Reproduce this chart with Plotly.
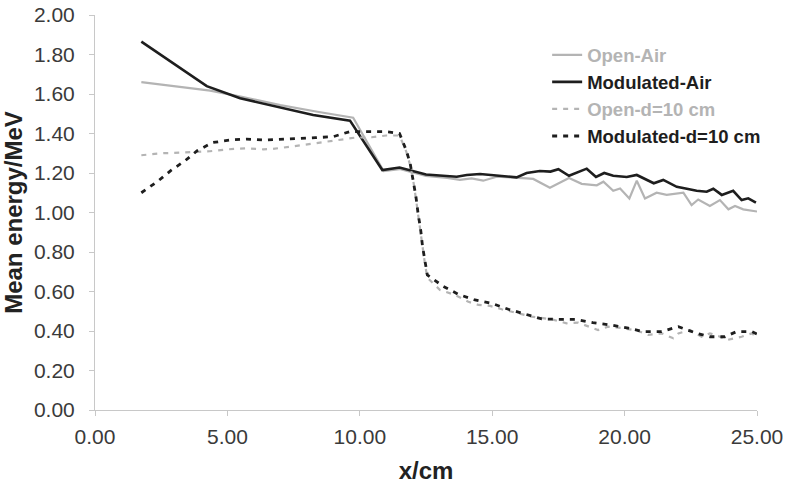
import plotly.graph_objects as go

# ---------------------------------------------------------------------------
# Data
# ---------------------------------------------------------------------------
open_air_x = [1.75, 4.35, 5.5, 7.0, 8.4, 9.5, 9.75, 10.9, 11.5, 12.5, 13.3, 13.78, 14.22,
              14.66, 15.17, 16.3, 16.55, 17.18, 17.9, 18.38, 18.95, 19.2, 19.57, 19.83,
              20.18, 20.46, 20.77, 21.21, 21.59, 22.22, 22.53, 22.78, 23.22, 23.6, 23.92,
              24.17, 24.48, 25.0]
open_air_y = [1.66, 1.617, 1.587, 1.544, 1.51, 1.485, 1.48, 1.21, 1.22, 1.185, 1.175, 1.165,
              1.173, 1.161, 1.181, 1.173, 1.17, 1.125, 1.175, 1.145, 1.138, 1.156, 1.11,
              1.122, 1.071, 1.161, 1.071, 1.1, 1.089, 1.1, 1.038, 1.066, 1.033, 1.063,
              1.016, 1.033, 1.016, 1.005]

mod_air_x = [1.75, 4.22, 5.48, 6.73, 8.24, 9.63, 10.85, 11.5, 12.5, 13.66, 14.04, 14.54,
             15.29, 15.92, 16.3, 16.8, 17.2, 17.5, 17.9, 18.57, 18.92, 19.23, 19.57, 20.08,
             20.46, 21.1, 21.46, 21.97, 22.35, 22.72, 23.1, 23.35, 23.67, 24.1, 24.42,
             24.67, 24.96]
mod_air_y = [1.865, 1.64, 1.578, 1.539, 1.494, 1.465, 1.215, 1.228, 1.192, 1.181, 1.19,
             1.195, 1.185, 1.178, 1.2, 1.21, 1.207, 1.219, 1.186, 1.222, 1.18, 1.2, 1.186,
             1.18, 1.19, 1.148, 1.165, 1.13, 1.12, 1.11, 1.105, 1.12, 1.089, 1.11, 1.063,
             1.072, 1.05]

open_d_x = [1.75, 2.52, 3.21, 4.34, 5.04, 5.67, 6.36, 6.71, 7.49, 8.35, 9.06, 9.82, 10.45,
            11.0, 11.5, 11.75, 11.9, 12.02, 12.12, 12.2, 12.3, 12.37, 12.46, 12.55, 13.03,
            13.6, 14.1, 14.48, 14.92, 15.36, 15.74, 16.49, 17.25, 17.81, 18.25, 18.63,
            19.0, 19.38, 19.95, 20.46, 20.9, 21.4, 21.84, 22.03, 22.47, 22.91, 23.22,
            23.54, 23.85, 24.42, 24.8, 25.0]
open_d_y = [1.29, 1.30, 1.303, 1.31, 1.32, 1.325, 1.32, 1.322, 1.335, 1.35, 1.362, 1.379,
            1.381, 1.39, 1.39, 1.31, 1.24, 1.16, 1.07, 0.99, 0.90, 0.82, 0.74, 0.67, 0.608,
            0.582, 0.548, 0.532, 0.527, 0.51, 0.498, 0.473, 0.459, 0.439, 0.442, 0.422,
            0.405, 0.422, 0.414, 0.402, 0.38, 0.388, 0.363, 0.388, 0.405, 0.371, 0.388,
            0.375, 0.354, 0.371, 0.388, 0.37]

mod_d_x = [1.75, 2.35, 2.86, 3.4, 3.86, 4.44, 5.1, 5.73, 6.38, 7.05, 7.7, 8.33, 9.0, 9.63,
           10.3, 10.95, 11.5, 11.75, 11.9, 12.02, 12.12, 12.2, 12.3, 12.37, 12.46, 12.55,
           13.13, 13.72, 14.35, 14.98, 15.61, 16.24, 16.87, 17.54, 18.13, 18.8, 19.51,
           20.14, 20.71, 21.4, 22.03, 22.66, 23.22, 23.79, 24.23, 24.8, 25.0]
mod_d_y = [1.10, 1.156, 1.212, 1.262, 1.313, 1.354, 1.367, 1.372, 1.367, 1.37, 1.374,
           1.379, 1.384, 1.41, 1.41, 1.41, 1.40, 1.316, 1.25, 1.165, 1.08, 0.995, 0.911,
           0.827, 0.751, 0.684, 0.628, 0.586, 0.557, 0.54, 0.51, 0.486, 0.461, 0.459,
           0.459, 0.442, 0.43, 0.414, 0.397, 0.397, 0.422, 0.391, 0.371, 0.371, 0.397,
           0.397, 0.385]

x_ticks = [0, 5, 10, 15, 20, 25]
y_ticks = [0, 0.2, 0.4, 0.6, 0.8, 1.0, 1.2, 1.4, 1.6, 1.8, 2.0]

GRAY = "#b4b4b4"
BLACK = "#1e1e1e"
FONT = "Liberation Sans, Arial, sans-serif"

fig = go.Figure()
fig.add_trace(go.Scatter(x=open_air_x, y=open_air_y, mode="lines",
                         name=f"<span style='color:{GRAY}'><b>Open-Air</b></span>",
                         line=dict(color=GRAY, width=2.2)))
fig.add_trace(go.Scatter(x=mod_air_x, y=mod_air_y, mode="lines",
                         name=f"<span style='color:{BLACK}'><b>Modulated-Air</b></span>",
                         line=dict(color=BLACK, width=2.6)))
fig.add_trace(go.Scatter(x=open_d_x, y=open_d_y, mode="lines",
                         name=f"<span style='color:{GRAY}'><b>Open-d=10 cm</b></span>",
                         line=dict(color=GRAY, width=2.2, dash="5px,6px")))
fig.add_trace(go.Scatter(x=mod_d_x, y=mod_d_y, mode="lines",
                         name=f"<span style='color:{BLACK}'><b>Modulated-d=10 cm</b></span>",
                         line=dict(color=BLACK, width=2.8, dash="5px,6px")))

axis_common = dict(
    showgrid=False, zeroline=False, automargin=False,
    showline=True, linecolor="#c8c8c8", linewidth=1,
    ticks="outside", ticklen=5, tickcolor="#c8c8c8",
    tickfont=dict(family=FONT, size=21, color="#3a3a3a"),
)

fig.update_layout(
    width=787, height=485,
    margin=dict(l=95, r=30, t=15, b=75),
    paper_bgcolor="white", plot_bgcolor="white",
    font=dict(family=FONT, size=20, color="#222222"),
    xaxis=dict(range=[0, 25], tickvals=x_ticks, tickformat=".2f", ticklabelstandoff=3,
               title=dict(text="<b>x/cm</b>", standoff=14), **axis_common),
    yaxis=dict(range=[0, 2], tickvals=y_ticks, tickformat=".2f", ticklabelstandoff=10,
               title=dict(text="<b>Mean energy/MeV</b>", standoff=23), **axis_common),
    legend=dict(x=0.683, y=0.946, xanchor="left", yanchor="top",
                bgcolor="rgba(0,0,0,0)", font=dict(size=18.5), tracegroupgap=0,
                itemwidth=30),
    showlegend=True,
)

# drop the default page margin so the figure fills the window exactly
fig.write_html("out.html", config={"displayModeBar": False},
               post_script="document.body.style.margin='0';")
